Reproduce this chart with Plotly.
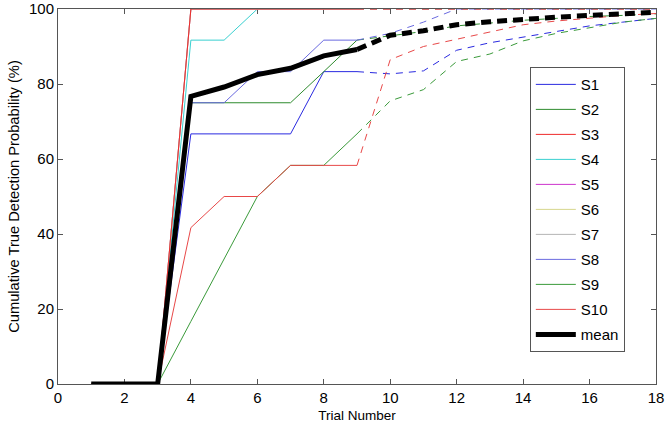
import plotly.graph_objects as go

trials = list(range(1, 19))
split_trial = 9  # solid up to here, dashed after

names = ["S1", "S2", "S3", "S4", "S5", "S6", "S7", "S8", "S9", "S10"]
colors = ["#2a2ae0", "#2e8b2e", "#ee2a2a", "#38d0d0", "#cc33cc",
          "#d6d68c", "#b4b4b4", "#6a6ae0", "#3a9a3a", "#e84848"]

s1 = [0, 0, 0, 66.7, 66.7, 66.7, 66.7, 83.3, 83.3, 82.7, 83.5, 89.0, 91.0, 92.5, 94.0, 95.5, 96.5, 97.5]
s2 = [0, 0, 0, 75.0, 75.0, 75.0, 75.0, 83.3, 91.7, 92.8, 94.0, 95.5, 96.3, 97.0, 97.5, 98.0, 98.3, 98.7]
s3 = [0, 0, 0, 100, 100, 100, 100, 100, 100, 100, 100, 100, 100, 100, 100, 100, 100, 100]
s4 = [0, 0, 0, 91.7, 91.7, 100, 100, 100, 100, 100, 100, 100, 100, 100, 100, 100, 100, 100]
s5 = [0, 0, 0, 100, 100, 100, 100, 100, 100, 100, 100, 100, 100, 100, 100, 100, 100, 100]
s6 = [0, 0, 0, 100, 100, 100, 100, 100, 100, 100, 100, 100, 100, 100, 100, 100, 100, 100]
s7 = [0, 0, 0, 100, 100, 100, 100, 100, 100, 100, 100, 100, 100, 100, 100, 100, 100, 100]
s8 = [0, 0, 0, 75.0, 75.0, 83.3, 83.3, 91.7, 91.7, 93.5, 96.5, 100, 100, 100, 100, 100, 100, 100]
s9 = [0, 0, 0, 16.7, 33.3, 50.0, 58.3, 58.3, 66.7, 75.5, 78.5, 86.0, 88.0, 91.5, 93.5, 95.0, 96.5, 97.5]
s10 = [0, 0, 0, 41.7, 50.0, 50.0, 58.3, 58.3, 58.3, 86.5, 90.0, 92.0, 94.0, 95.8, 96.8, 97.6, 98.3, 98.8]
mean = [0, 0, 0, 76.7, 79.2, 82.5, 84.2, 87.5, 89.2, 93.0, 94.2, 95.8, 96.6, 97.3, 97.8, 98.3, 98.7, 99.1]

series = [s1, s2, s3, s4, s5, s6, s7, s8, s9, s10]

x_ticks = list(range(0, 19, 2))
y_ticks = list(range(0, 101, 20))

FONT = "Liberation Sans, Arial, Helvetica, sans-serif"

fig = go.Figure()

k = trials.index(split_trial)
# draw order: S3 last among the 100% group so the top edge shows red
draw_order = [0, 1, 3, 4, 5, 6, 2, 7, 8, 9]
for i in draw_order:
    vals = series[i]
    fig.add_trace(go.Scatter(
        x=trials[:k + 1], y=vals[:k + 1], mode="lines", name=names[i],
        line=dict(color=colors[i], width=1), legendgroup=names[i],
        legendrank=i + 1, showlegend=True, hoverinfo="skip", cliponaxis=False))
    fig.add_trace(go.Scatter(
        x=trials[k:], y=vals[k:], mode="lines", name=names[i],
        line=dict(color=colors[i], width=1, dash="7px,6px"),
        legendgroup=names[i], showlegend=False, hoverinfo="skip", cliponaxis=False))

fig.add_trace(go.Scatter(
    x=trials[:k + 1], y=mean[:k + 1], mode="lines", name="mean",
    line=dict(color="black", width=5), legendgroup="mean", legendrank=11,
    hoverinfo="skip"))
fig.add_trace(go.Scatter(
    x=trials[k:], y=mean[k:], mode="lines", name="mean",
    line=dict(color="black", width=5, dash="10px,6px"), legendgroup="mean",
    showlegend=False, hoverinfo="skip"))

axis_common = dict(showgrid=False, zeroline=False, showline=True, mirror="ticks",
                   linecolor="#555555", linewidth=1, ticks="inside", ticklen=5,
                   tickcolor="#555555", automargin=False, layer="below traces",
                   tickfont=dict(size=15, color="black", family=FONT))

fig.update_layout(
    width=668, height=428,
    margin=dict(l=58, r=12, t=9, b=44),
    paper_bgcolor="white", plot_bgcolor="white",
    font=dict(family=FONT, color="black"),
    xaxis=dict(range=[0, 18], tickvals=x_ticks, ticktext=[str(v) for v in x_ticks],
               title=dict(text="Trial Number", font=dict(size=13.5), standoff=5),
               **axis_common),
    yaxis=dict(range=[0, 100], tickvals=y_ticks, ticktext=[str(v) for v in y_ticks],
               title=dict(text="Cumulative True Detection Probability (%)",
                          font=dict(size=14.7), standoff=5),
               **axis_common),
    legend=dict(x=0.789, y=0.845, xanchor="left", yanchor="top",
                bgcolor="white", bordercolor="#555555", borderwidth=1,
                font=dict(size=15, family=FONT), tracegroupgap=2.5,
                traceorder="grouped", itemwidth=40),
    showlegend=True,
)

fig.write_html("out.html", config={"displayModeBar": False},
               post_script="document.body.style.margin='0';document.body.style.padding='0';document.body.style.overflow='hidden';")
